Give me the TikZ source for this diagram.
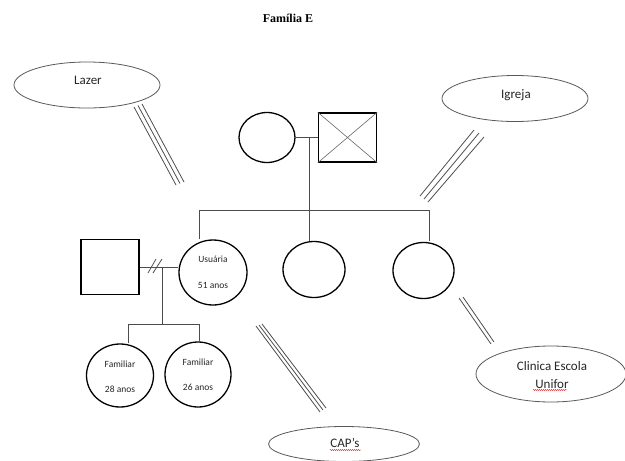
\documentclass[tikz,border=0pt]{standalone}
\usepackage{fontspec}
\setmainfont{Carlito}
\newfontfamily\titlefont{Liberation Serif}
\usetikzlibrary{shapes.geometric,decorations.pathmorphing}
\begin{document}
\begin{tikzpicture}[x=1pt,y=-1pt,
  person/.style={draw=black,line width=1.3pt,ellipse,inner sep=0pt},
  male/.style={draw=black,line width=1.3pt,rectangle,inner sep=0pt},
  eco/.style={draw=black!65,line width=0.8pt,ellipse,inner sep=0pt},
  ecotext/.style={font=\fontsize{13}{15}\selectfont,text=black!85,align=center,inner sep=0pt},
  rel/.style={draw=black!70,line width=0.8pt},
  tie/.style={draw=black!60,line width=0.6pt},
  small/.style={font=\fontsize{9.5}{11}\selectfont,text=black!85,align=center},
  spell/.style={draw=red!80!black,line width=0.4pt,decorate,decoration={snake,amplitude=0.5pt,segment length=2pt}}]
\useasboundingbox (0,0) rectangle (625,461);
% title
\node[font=\titlefont\bfseries\fontsize{12}{14}\selectfont] (title) at (288,18) {Família E};
% ecomap ellipses
\node[eco,minimum width=146pt,minimum height=46pt] (lazer) at (87,85) {};
\node[ecotext] (lazertxt) at (88,80) {Lazer};
\node[eco,minimum width=146pt,minimum height=46pt] (igreja) at (515,98.5) {};
\node[ecotext] (igrejatxt) at (516,95) {Igreja};
\node[eco,minimum width=150pt,minimum height=56pt] (clinica) at (551,374) {};
\node[ecotext] (clin1) at (552,366) {Clinica Escola};
\node[ecotext] (clin2) at (552,384) {Unifor};
\node[eco,minimum width=151pt,minimum height=35pt] (caps) at (344,444) {};
\node[ecotext] (capstxt) at (345,443) {CAP’s};
% spelling underlines
\coordinate (u1a) at (533,390); \coordinate (u1b) at (567,390);
\draw[spell] (u1a) -- (u1b);
\coordinate (u2a) at (330,450); \coordinate (u2b) at (361,450);
\draw[spell] (u2a) -- (u2b);
% parents
\node[person,minimum width=56pt,minimum height=50pt] (mother) at (267,137.5) {};
\node[male,minimum width=58pt,minimum height=49pt] (father) at (347.5,137.5) {};
\draw[tie] (father.north west) -- (father.south east);
\draw[tie] (father.south west) -- (father.north east);
\draw[rel] (mother.east) -- (mother.east -| father.west);
\coordinate (pm) at (309,137.5);
\coordinate (sib) at (309,210);
\coordinate (s1) at (199,210);
\coordinate (s3) at (429,210);
\draw[rel] (pm) -- (sib);
\draw[rel] (s1) -- (s3);
% siblings
\node[person,minimum width=68pt,minimum height=65pt] (usuaria) at (213,272.5) {};
\node[small] (usutxt) at (213,259) {Usuária};
\node[small] (usuage) at (213,285) {51 anos};
\node[person,minimum width=62pt,minimum height=56pt] (sis2) at (314,269.5) {};
\node[person,minimum width=61pt,minimum height=56pt] (sis3) at (423.5,270.5) {};
\draw[rel] (s1) -- (s1 |- usuaria.north);
\draw[rel] (sib) -- (sib |- sis2.north);
\draw[rel] (s3) -- ([yshift=1pt]s3 |- sis3.north);
% husband
\node[male,minimum width=58pt,minimum height=55pt] (husband) at (110,267) {};
\draw[rel] (husband.east) -- (husband.east -| usuaria.west);
\coordinate (dv) at (155,266);
\draw[rel] ([shift={(-7,7)}]dv) -- ([shift={(1,-7)}]dv);
\draw[rel] ([shift={(-2,7)}]dv) -- ([shift={(7,-7)}]dv);
% children
\coordinate (cd) at (162,267);
\coordinate (cl) at (162,324);
\coordinate (c1) at (128,324);
\coordinate (c2) at (199,324);
\draw[rel] (cd) -- (cl);
\draw[rel] (c1) -- (c2);
\node[person,minimum width=67pt,minimum height=63pt] (child1) at (120,375.5) {};
\node[person,minimum width=66pt,minimum height=65pt] (child2) at (198,374.5) {};
\draw[rel] (c1) -- (c1 |- child1.north);
\draw[rel] (c2) -- (c2 |- child2.north);
\node[small] (c1t) at (120,364) {Familiar};
\node[small] (c1a) at (120,389) {28 anos};
\node[small] (c2t) at (198,362) {Familiar};
\node[small] (c2a) at (198,387) {26 anos};
% ecomap relation lines (free ends)
\coordinate (la1) at (134,107); \coordinate (lb1) at (176,185);
\coordinate (la2) at (138,105.5); \coordinate (lb2) at (180,183.5);
\coordinate (la3) at (142,104); \coordinate (lb3) at (184,182);
\draw[rel] (la1) -- (lb1); \draw[rel] (la2) -- (lb2); \draw[rel] (la3) -- (lb3);
\coordinate (ia1) at (420,196); \coordinate (ib1) at (474,130);
\coordinate (ia2) at (424,199); \coordinate (ib2) at (479,133);
\coordinate (ia3) at (428,202); \coordinate (ib3) at (484,137);
\draw[rel] (ia1) -- (ib1); \draw[rel] (ia2) -- (ib2); \draw[rel] (ia3) -- (ib3);
\coordinate (ca1) at (256,326); \coordinate (cb1) at (320,412);
\coordinate (ca2) at (259,325); \coordinate (cb2) at (323,410);
\coordinate (ca3) at (262,324); \coordinate (cb3) at (326,408);
\draw[rel] (ca1) -- (cb1); \draw[rel] (ca2) -- (cb2); \draw[rel] (ca3) -- (cb3);
\coordinate (ka1) at (459,298); \coordinate (kb1) at (491,344);
\coordinate (ka2) at (463,297); \coordinate (kb2) at (494,342);
\draw[rel] (ka1) -- (kb1); \draw[rel] (ka2) -- (kb2);
\end{tikzpicture}
\end{document}
